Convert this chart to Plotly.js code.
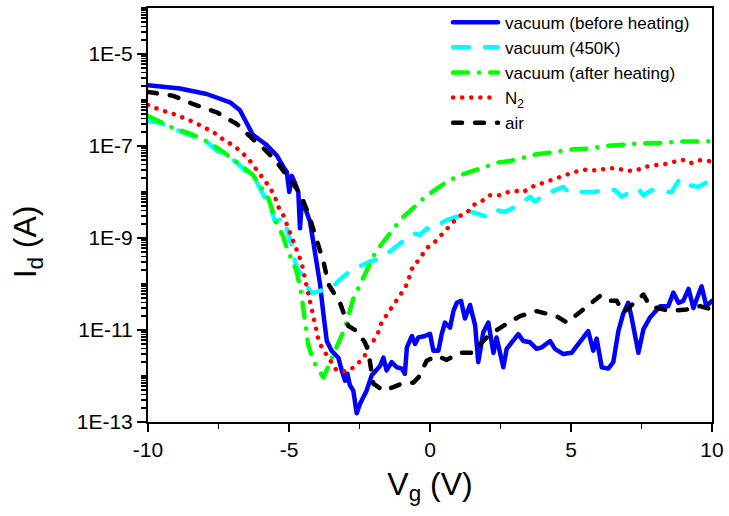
<!DOCTYPE html>
<html>
<head>
<meta charset="utf-8">
<script src="https://cdn.plot.ly/plotly-3.0.1.min.js"></script>
<style>
  html, body { margin: 0; padding: 0; background: #fff; }
  #chart { width: 729px; height: 516px; }
  /* rounded dots and dash ends */
  path.js-line { stroke-linecap: round; stroke-linejoin: round; }
  /* longer line samples in the legend */
  .legend path.js-line { d: path("M3,0h45"); }
</style>
</head>
<body>
<div id="chart"></div>
<script>
// Gate voltage (V) and drain current (A) for each measurement condition

const vgVacBefore = [-10, -8.87, -7.92, -7.09, -6.74, -6.5, -6.28, -5.79, -5.44, -5.2, -5.08, -4.99, -4.9, -4.79, -4.67, -4.61, -4.55, -4.4, -4.26, -4.14, -4.02, -3.9, -3.78, -3.66, -3.49, -3.25, -3.13, -3.01, -2.93, -2.84, -2.72, -2.6, -2.48, -2.25, -2.07, -1.89, -1.77, -1.65, -1.54, -1.36, -1.18, -1.0, -0.89, -0.82, -0.64, -0.53, -0.41, -0.18, 0.0, 0.12, 0.3, 0.41, 0.53, 0.71, 0.83, 0.95, 1.1, 1.24, 1.42, 1.6, 1.71, 1.89, 2.07, 2.25, 2.36, 2.6, 2.72, 3.13, 3.31, 3.55, 3.78, 3.96, 4.26, 4.43, 4.73, 5.02, 5.26, 5.61, 5.79, 5.91, 6.09, 6.32, 6.5, 6.68, 6.85, 7.03, 7.15, 7.39, 7.57, 7.8, 8.16, 8.45, 8.63, 8.81, 8.98, 9.17, 9.34, 9.63, 9.8, 10.0];
const idVacBefore = [2.1e-6, 1.78e-6, 1.35e-6, 8.9e-7, 6.0e-7, 3.0e-7, 1.74e-7, 1.05e-7, 6.3e-8, 3.5e-8, 2.75e-8, 1.0e-8, 2.24e-8, 1.58e-8, 1.0e-8, 1.62e-9, 6.2e-9, 4.0e-9, 2.3e-9, 8.3e-10, 3.1e-10, 1.0e-10, 2.24e-11, 5.75e-12, 3.55e-12, 2.5e-12, 1.32e-12, 7.9e-13, 1.12e-12, 6.3e-13, 4.8e-13, 1.55e-13, 2.5e-13, 4.8e-13, 1.02e-12, 1.32e-12, 1.66e-12, 2.5e-12, 1.32e-12, 2.0e-12, 1.55e-12, 1.45e-12, 1.12e-12, 4.2e-12, 7.4e-12, 5.0e-12, 6.9e-12, 7.4e-12, 8.3e-12, 3.55e-12, 3.55e-12, 7.9e-12, 1.45e-11, 1.12e-11, 2.57e-11, 3.9e-11, 4.3e-11, 1.78e-11, 3.5e-11, 1.26e-11, 2.0e-12, 8.9e-12, 1.45e-11, 3.2e-12, 6.9e-12, 1.55e-12, 3.9e-12, 8.1e-12, 5.75e-12, 5.4e-12, 3.9e-12, 4.2e-12, 5.75e-12, 3.9e-12, 3.0e-12, 3.2e-12, 5.0e-12, 9.5e-12, 3.55e-12, 6.5e-12, 1.55e-12, 1.45e-12, 2.0e-12, 9.5e-12, 2.24e-11, 3.9e-11, 1.86e-11, 3.2e-12, 1.05e-11, 1.86e-11, 3.3e-11, 3.3e-11, 6.5e-11, 3.9e-11, 4.3e-11, 7.8e-11, 3.0e-11, 8.9e-11, 3.3e-11, 4.3e-11];

const vgVac450 = [-10, -9.57, -9.22, -8.27, -7.92, -7.56, -7.2, -6.74, -6.38, -6.15, -5.62, -5.5, -5.32, -5.2, -4.85, -4.79, -4.67, -4.44, -4.32, -4.2, -3.9, -3.43, -3.19, -2.84, -2.13, -1.72, -1.42, -0.59, -0.35, -0.12, 0.0, 0.59, 0.95, 1.18, 1.6, 2.01, 2.3, 2.66, 3.1, 3.55, 3.72, 4.14, 4.73, 4.91, 5.44, 5.8, 6.15, 6.56, 6.8, 7.1, 7.39, 7.57, 7.86, 8.2, 8.57, 8.86, 9.2, 9.5, 9.98];
const idVac450 = [3.5e-7, 3.2e-7, 2.57e-7, 1.48e-7, 1.23e-7, 7.9e-8, 6.3e-8, 3.8e-8, 2.3e-8, 1.66e-8, 4.1e-9, 2.3e-9, 2.5e-9, 2.8e-9, 5.5e-10, 3.1e-10, 2.0e-10, 1.35e-10, 8.3e-11, 6.3e-11, 7.1e-11, 8.7e-11, 1.26e-10, 1.9e-10, 3.1e-10, 3.6e-10, 5.1e-10, 1.26e-9, 1.17e-9, 1.62e-9, 1.51e-9, 2.45e-9, 2.9e-9, 4.1e-9, 3.5e-9, 2.9e-9, 4.1e-9, 3.7e-9, 5.0e-9, 7.9e-9, 6.2e-9, 9.3e-9, 1.29e-8, 1.0e-8, 1.0e-8, 1.0e-8, 1.1e-8, 1.1e-8, 7.9e-9, 1.0e-8, 1.17e-8, 8.5e-9, 1.1e-8, 1.0e-8, 1.0e-8, 1.95e-8, 1.41e-8, 1.29e-8, 1.82e-8];

const vgVacAfter = [-10, -9.1, -8.51, -7.8, -7.33, -6.85, -6.27, -5.85, -5.73, -5.44, -5.2, -5.08, -4.91, -4.73, -4.58, -4.49, -4.43, -4.32, -4.14, -3.96, -3.78, -3.6, -3.31, -3.19, -3.01, -2.9, -2.78, -2.67, -2.55, -2.31, -1.95, -1.65, -1.3, -1.0, -0.59, -0.24, 0.12, 0.59, 1.0, 1.47, 2.01, 2.42, 2.84, 3.43, 3.78, 4.2, 4.79, 5.08, 5.56, 6.21, 6.91, 7.5, 8.28, 8.93, 9.63, 10.0];
const idVacAfter = [4.5e-7, 2.45e-7, 1.86e-7, 1.17e-7, 7.4e-8, 4.5e-8, 2.3e-8, 9.3e-9, 7.2e-9, 2.1e-9, 1.07e-9, 6.0e-10, 3.4e-10, 1.9e-10, 7.1e-11, 3.0e-11, 1.45e-11, 4.9e-12, 2.14e-12, 1.41e-12, 9.3e-13, 1.66e-12, 3.9e-12, 6.3e-12, 1.12e-11, 2.2e-11, 3.6e-11, 5.9e-11, 7.9e-11, 1.62e-10, 4.7e-10, 8.3e-10, 1.51e-9, 2.7e-9, 4.5e-9, 7.2e-9, 1.05e-8, 1.66e-8, 2.24e-8, 2.8e-8, 3.8e-8, 4.4e-8, 4.7e-8, 5.75e-8, 6.6e-8, 7.1e-8, 7.9e-8, 8.5e-8, 8.7e-8, 1.0e-7, 1.07e-7, 1.15e-7, 1.17e-7, 1.26e-7, 1.26e-7, 1.28e-7];

const vgN2 = [-10, -9.63, -8.98, -8.33, -7.68, -7.33, -6.97, -6.68, -6.38, -6.15, -5.91, -5.67, -5.5, -5.38, -5.2, -5.08, -4.91, -4.79, -4.67, -4.55, -4.49, -4.26, -4.14, -4.08, -3.96, -3.84, -3.66, -3.49, -3.31, -2.96, -2.67, -2.48, -2.31, -2.25, -2.01, -1.83, -1.72, -1.54, -1.36, -1.18, -1.0, -0.82, -0.71, -0.59, -0.41, -0.29, -0.12, 0.18, 0.47, 0.71, 1.0, 1.3, 1.54, 1.83, 2.13, 2.48, 2.78, 3.07, 3.31, 3.6, 3.9, 4.26, 4.61, 4.94, 5.28, 5.61, 5.94, 6.28, 6.62, 6.95, 7.29, 7.62, 7.95, 8.3, 8.63, 8.96, 9.22, 9.55, 9.88, 10.0];
const idN2 = [7.8e-7, 6.3e-7, 4.7e-7, 3.2e-7, 2.0e-7, 1.38e-7, 1.02e-7, 7.4e-8, 4.7e-8, 3.1e-8, 2.04e-8, 1.23e-8, 7.9e-9, 4.8e-9, 3.1e-9, 1.95e-9, 1.17e-9, 7.4e-10, 4.7e-10, 2.9e-10, 1.9e-10, 4.3e-11, 2.57e-11, 1.45e-11, 6.3e-12, 4.2e-12, 2.75e-12, 1.86e-12, 1.32e-12, 1.26e-12, 1.58e-12, 2.1e-12, 2.75e-12, 4.2e-12, 5.75e-12, 9.1e-12, 1.45e-11, 2.1e-11, 3.0e-11, 4.3e-11, 6.5e-11, 9.8e-11, 1.62e-10, 2.6e-10, 3.2e-10, 4.2e-10, 6.0e-10, 8.3e-10, 1.26e-9, 1.9e-9, 2.9e-9, 3.5e-9, 5.2e-9, 6.3e-9, 8.5e-9, 8.5e-9, 1.0e-8, 1.05e-8, 1.0e-8, 1.29e-8, 1.51e-8, 1.74e-8, 2.14e-8, 2.5e-8, 2.9e-8, 3.1e-8, 2.9e-8, 3.3e-8, 3.3e-8, 2.9e-8, 2.9e-8, 3.5e-8, 3.8e-8, 4.0e-8, 4.5e-8, 5.0e-8, 4.2e-8, 4.9e-8, 4.7e-8, 4.8e-8];

const vgAir = [-10, -9.1, -8.39, -7.56, -6.85, -6.74, -6.28, -5.9, -5.5, -5.0, -4.61, -4.32, -4.02, -3.78, -3.6, -3.19, -2.9, -2.6, -2.31, -2.19, -2.01, -1.65, -1.3, -1.0, -0.59, -0.41, -0.12, 0.24, 0.59, 1.06, 1.47, 2.13, 2.6, 3.19, 3.78, 4.02, 4.49, 4.85, 5.32, 5.56, 6.03, 6.25, 6.62, 6.85, 7.39, 7.57, 7.8, 8.51, 9.1, 9.57, 10.0];
const idAir = [1.5e-6, 1.23e-6, 8.1e-7, 5.4e-7, 3.0e-7, 2.57e-7, 1.41e-7, 8.9e-8, 5.0e-8, 2.0e-8, 9.3e-9, 3.5e-9, 1.0e-9, 3.1e-10, 9.8e-11, 3.9e-11, 1.23e-11, 9.5e-12, 5.4e-12, 3.55e-12, 6.8e-13, 4.8e-13, 5.75e-13, 6.8e-13, 7.2e-13, 9.3e-13, 2.14e-12, 2.75e-12, 2.24e-12, 3.2e-12, 3.2e-12, 8.1e-12, 1.23e-11, 2.0e-11, 2.57e-11, 2.4e-11, 2.0e-11, 1.45e-11, 2.57e-11, 3.2e-11, 5.5e-11, 4.3e-11, 4.3e-11, 2.4e-11, 4.7e-11, 5.9e-11, 3.3e-11, 2.57e-11, 2.8e-11, 3.3e-11, 2.8e-11];

const seriesNames = ['vacuum (before heating)', 'vacuum (450K)', 'vacuum (after heating)', 'N<sub>2</sub>', 'air'];

const xTickVals = [-10, -5, 0, 5, 10];
const xTickText = ['-10', '-5', '0', '5', '10'];
const yTickVals = [1e-13, 1e-11, 1e-9, 1e-7, 1e-5];
const yTickText = ['1E-13', '1E-11', '1E-9', '1E-7', '1E-5'];

const W = 4.5;
const traces = [
  { x: vgVacBefore, y: idVacBefore, name: seriesNames[0],
    line: { color: '#0000ff', width: W } },
  { x: vgVac450, y: idVac450, name: seriesNames[1],
    line: { color: '#00ffff', width: W, dash: '16px,16px' } },
  { x: vgVacAfter, y: idVacAfter, name: seriesNames[2],
    line: { color: '#00ff00', width: W, dash: '15px,11px,0.1px,11px' } },
  { x: vgN2, y: idN2, name: seriesNames[3],
    line: { color: '#ff0000', width: W, dash: '0.1px,9px' } },
  { x: vgAir, y: idAir, name: seriesNames[4],
    line: { color: '#000000', width: W, dash: '9px,13px' } }
].map(t => Object.assign({ type: 'scatter', mode: 'lines' }, t));

const FONT = 'Liberation Sans, Arial, sans-serif';

const layout = {
  width: 729, height: 516,
  margin: { l: 148, r: 17, t: 5, b: 94 },
  paper_bgcolor: '#ffffff', plot_bgcolor: '#ffffff',
  font: { family: FONT, color: '#000' },
  showlegend: true,
  legend: {
    x: 0.5355, y: 1.008, xanchor: 'left', yanchor: 'top',
    bgcolor: 'rgba(0,0,0,0)', borderwidth: 0,
    itemwidth: 45,
    font: { family: FONT, size: 17, color: '#000' },
    tracegroupgap: 0
  },
  xaxis: {
    range: [-10, 10], showgrid: false, zeroline: false,
    showline: true, linecolor: '#000', linewidth: 2, mirror: true,
    ticks: 'outside', ticklen: 8, tickwidth: 2, tickcolor: '#000',
    tickmode: 'array', tickvals: xTickVals, ticktext: xTickText,
    tickfont: { family: FONT, size: 21 },
    minor: { dtick: 2.5, ticks: 'outside', ticklen: 5, tickwidth: 1.5, tickcolor: '#000', showgrid: false },
    title: { text: 'V<sub>g</sub> (V)', font: { family: FONT, size: 32 }, standoff: 12 }
  },
  yaxis: {
    type: 'log', range: [-13, -4], showgrid: false, zeroline: false,
    showline: true, linecolor: '#000', linewidth: 2, mirror: true,
    ticks: 'outside', ticklen: 9, tickwidth: 2, tickcolor: '#000',
    tickmode: 'array', tickvals: yTickVals, ticktext: yTickText,
    tickfont: { family: FONT, size: 21 },
    minor: { dtick: 'D1', ticks: 'outside', ticklen: 5, tickwidth: 1.5, tickcolor: '#000', showgrid: false }
  },
  annotations: [{
    text: 'I<sub>d</sub> (A)', textangle: -90,
    xref: 'paper', yref: 'paper', x: -0.213, y: 0.436,
    xanchor: 'center', yanchor: 'middle', showarrow: false,
    font: { family: FONT, size: 32, color: '#000' }
  }]
};

Plotly.newPlot('chart', traces, layout, { staticPlot: true, displayModeBar: false });
</script>
</body>
</html>
